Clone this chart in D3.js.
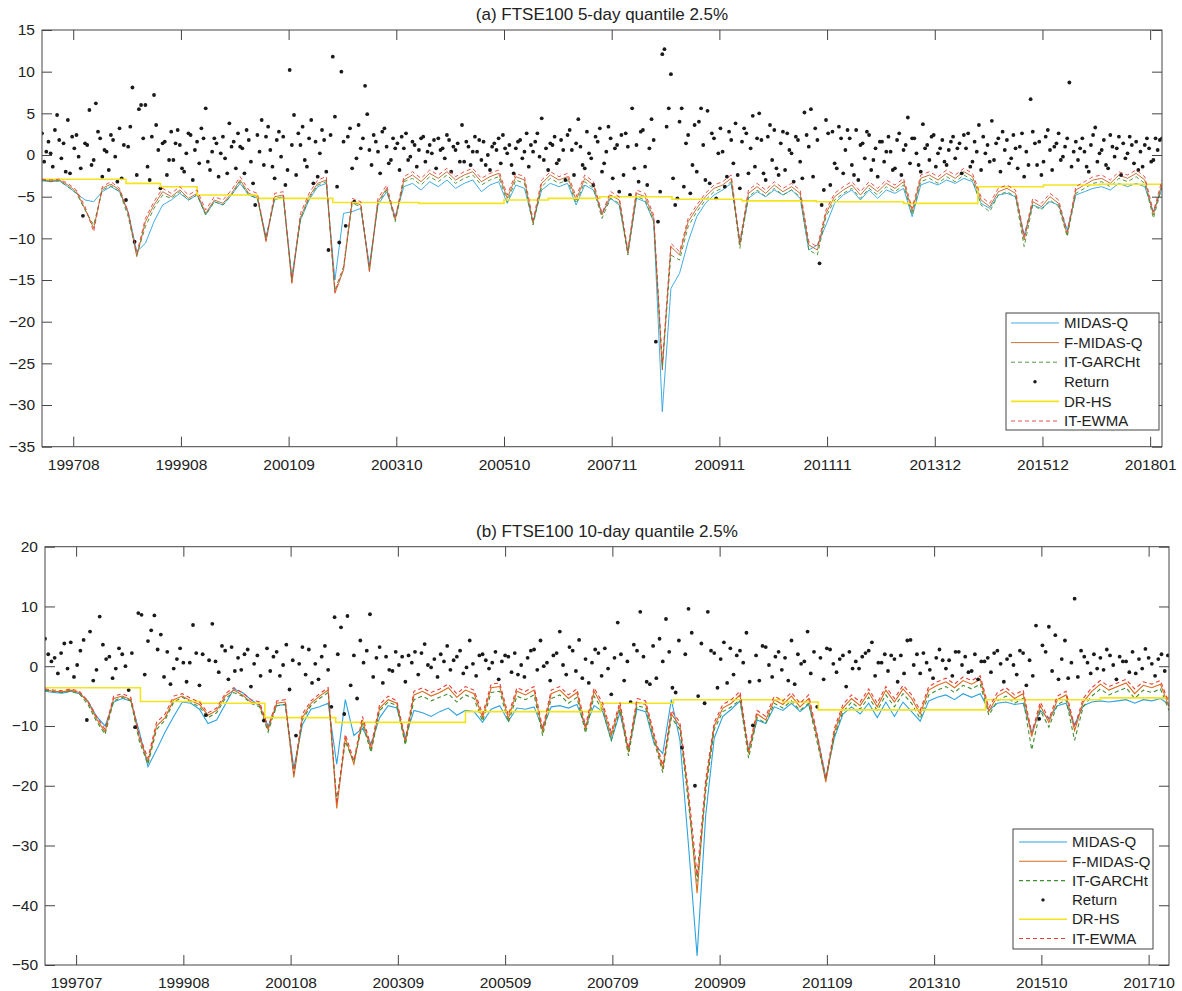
<!DOCTYPE html>
<html>
<head>
<meta charset="utf-8">
<script src="https://cdn.jsdelivr.net/npm/d3@7"></script>
<style>
  body { margin: 0; background: #fff; }
  svg { display: block; font-family: "Liberation Sans", Arial, sans-serif; }
</style>
</head>
<body>
<script>
// ---------- panel (a): 5-day, lines sampled every 8 obs, returns every 2 obs
const seriesNames = ["MIDAS-Q", "F-MIDAS-Q", "IT-GARCHt", "Return", "DR-HS", "IT-EWMA"];

const tickLabelsA = ["199708","199908","200109","200310","200510","200711","200911","201111","201312","201512","201801"];
const tickLabelsB = ["199707","199908","200108","200309","200509","200709","200909","201109","201310","201510","201710"];
const tickIdx = [29,129,229,329,429,529,629,729,829,929,1029];
const yTicksA = [-35,-30,-25,-20,-15,-10,-5,0,5,10,15];
const yTicksB = [-50,-40,-30,-20,-10,0,10,20];

const midasA = [-3.1,-3.2,-3.1,-3.8,-4.6,-5.4,-5.6,-4.4,-3.8,-4.4,
 -6.8,-11.6,-10.6,-8.0,-6.0,-5.4,-4.6,-5.4,-4.8,-7.2,
 -5.6,-6.0,-4.8,-3.4,-4.8,-5.2,-9.8,-5.4,-5.0,-14.6,
 -7.8,-5.4,-3.8,-3.4,-15.0,-7.0,-6.8,-6.4,-13.2,-6.0,
 -4.4,-7.4,-3.8,-3.4,-4.2,-3.2,-3.8,-3.0,-4.0,-3.4,
 -3.0,-4.4,-3.6,-3.2,-5.8,-3.6,-4.0,-8.0,-4.2,-3.4,
 -3.8,-3.4,-6.0,-3.6,-4.2,-7.0,-5.2,-6.0,-11.6,-5.2,
 -5.6,-8.0,-30.8,-16.0,-14.2,-10.4,-7.4,-5.8,-4.8,-4.2,
 -3.4,-10.4,-5.2,-4.4,-5.0,-4.2,-4.8,-4.2,-5.2,-11.4,
 -10.8,-8.4,-5.8,-4.8,-4.2,-5.4,-4.2,-5.2,-4.2,-4.6,
 -4.0,-7.4,-3.6,-3.2,-3.6,-3.0,-3.4,-2.8,-3.2,-5.8,
 -6.4,-4.8,-4.6,-5.0,-9.6,-6.0,-6.4,-5.6,-6.0,-9.0,
 -4.8,-4.4,-4.0,-3.8,-4.2,-3.4,-3.8,-3.4,-3.8,-6.8,
 -4.0];
const fmidasA = [-3.0,-3.1,-3.0,-3.6,-4.4,-6.5,-8.8,-4.0,-3.5,-4.2,
 -7.0,-12.2,-8.0,-6.0,-4.4,-5.0,-4.2,-5.2,-4.6,-7.0,
 -5.4,-5.8,-4.6,-3.0,-4.6,-5.0,-10.4,-5.0,-4.8,-15.4,
 -7.5,-5.0,-3.4,-3.0,-16.6,-13.8,-5.6,-6.0,-14.0,-5.6,
 -4.0,-7.8,-3.0,-2.4,-3.2,-2.2,-2.8,-2.0,-3.0,-2.4,
 -2.0,-3.2,-2.6,-2.2,-5.2,-2.6,-3.0,-8.2,-3.4,-2.4,
 -3.0,-2.6,-5.4,-2.8,-3.6,-7.2,-4.8,-5.4,-11.8,-4.6,
 -5.0,-7.6,-25.8,-11.0,-12.0,-8.0,-6.4,-5.0,-4.0,-3.6,
 -2.8,-10.8,-4.6,-3.8,-4.6,-3.6,-4.4,-3.8,-4.6,-10.8,
 -11.4,-7.0,-5.0,-4.2,-3.6,-4.8,-3.6,-4.4,-3.4,-4.0,
 -3.2,-6.8,-2.8,-2.4,-3.0,-2.2,-2.8,-2.0,-2.6,-5.4,
 -6.2,-4.4,-4.0,-4.6,-10.2,-5.6,-6.2,-5.0,-5.8,-9.6,
 -4.2,-3.6,-3.0,-2.8,-3.4,-2.4,-2.8,-2.2,-3.0,-7.2,
 -3.4];
const garchA = [-3.0,-3.2,-3.1,-3.8,-4.6,-6.6,-8.4,-4.2,-3.7,-4.4,
 -7.4,-12.0,-8.6,-6.4,-4.8,-5.2,-4.4,-5.4,-4.8,-7.2,
 -5.6,-6.0,-4.8,-3.2,-4.8,-5.2,-10.0,-5.2,-5.0,-15.0,
 -7.8,-5.2,-3.6,-3.2,-16.2,-13.4,-5.8,-6.2,-13.6,-5.8,
 -4.2,-8.0,-3.2,-2.8,-3.6,-2.6,-3.2,-2.4,-3.4,-2.8,
 -2.4,-3.6,-3.0,-2.6,-5.6,-3.0,-3.4,-8.4,-3.8,-2.8,
 -3.4,-3.0,-5.8,-3.2,-4.0,-7.6,-5.2,-5.8,-12.0,-5.0,
 -5.4,-8.0,-25.4,-12.0,-12.6,-8.6,-6.8,-5.4,-4.4,-4.0,
 -3.2,-11.2,-5.0,-4.2,-5.0,-4.0,-4.8,-4.2,-5.0,-11.4,
 -12.0,-7.4,-5.4,-4.6,-4.0,-5.2,-4.0,-4.8,-3.8,-4.4,
 -3.6,-7.2,-3.2,-2.8,-3.4,-2.6,-3.2,-2.4,-3.0,-6.0,
 -6.8,-4.8,-4.4,-5.0,-11.0,-6.0,-6.6,-5.4,-6.2,-9.8,
 -4.6,-4.0,-3.4,-3.2,-3.8,-2.8,-3.2,-2.6,-3.4,-7.6,
 -3.8];
const ewmaA = [-2.9,-3.0,-2.9,-3.4,-4.2,-6.2,-9.2,-3.8,-3.2,-4.0,
 -6.8,-11.8,-7.6,-5.6,-4.0,-4.6,-3.8,-4.8,-4.2,-6.6,
 -5.0,-5.4,-4.2,-2.6,-4.2,-4.6,-10.2,-4.6,-4.4,-15.2,
 -7.0,-4.6,-3.0,-2.6,-16.4,-13.6,-5.2,-5.6,-13.8,-5.2,
 -3.6,-7.6,-2.6,-2.0,-2.8,-1.8,-2.4,-1.6,-2.6,-2.0,
 -1.6,-2.8,-2.2,-1.8,-4.8,-2.2,-2.6,-7.8,-3.0,-2.0,
 -2.6,-2.2,-5.0,-2.4,-3.2,-7.0,-4.4,-5.0,-11.4,-4.2,
 -4.6,-7.2,-25.0,-10.6,-11.6,-7.6,-6.0,-4.6,-3.6,-3.2,
 -2.4,-10.4,-4.2,-3.4,-4.2,-3.2,-4.0,-3.4,-4.2,-10.4,
 -11.0,-6.6,-4.6,-3.8,-3.2,-4.4,-3.2,-4.0,-3.0,-3.6,
 -2.8,-6.4,-2.4,-2.0,-2.6,-1.8,-2.4,-1.6,-2.2,-5.0,
 -5.8,-4.0,-3.6,-4.2,-9.8,-5.2,-5.8,-4.6,-5.4,-9.2,
 -3.8,-3.2,-2.6,-2.4,-3.0,-2.0,-2.4,-1.8,-2.6,-6.8,
 -3.0];
// DR-HS is a step series: change points (obs index) and levels
const drhsIdxA = [0,78,110,144,200,270,350,429,470,518,585,650,719,800,869,930,982,1040];
const drhsValA = [-2.9,-3.4,-3.8,-4.8,-5.2,-5.7,-5.8,-5.4,-5.2,-5.0,-5.3,-5.5,-5.6,-5.8,-3.8,-3.6,-3.5,-3.5];
const returnA = [
 2.6,-0.8,0.4,1.6,0.2,-1.4,3.0,4.8,1.8,-0.4,1.4,-2.0,4.2,-2.2,2.2,0.8,2.4,-0.2,-1.6,-7.3,1.4,1.2,5.4,-1.2,-0.6,6.2,2.8,2.0,-2.6,0.6,
 0.4,-1.8,2.4,1.8,-0.2,-3.2,3.2,-2.8,1.2,-5.4,1.0,3.4,8.1,-10.4,-2.4,5.5,6.0,2.0,6.0,-1.4,-3.0,2.2,7.2,3.6,0.6,-4.0,1.4,1.6,-2.4,-0.6,
 2.8,-0.6,1.4,3.0,1.2,-1.6,-2.0,0.2,2.6,2.4,-3.0,0.6,1.6,-1.0,3.2,2.0,5.6,-0.8,-1.8,0.4,2.0,1.4,-2.6,0.2,2.2,-0.4,-2.2,3.8,1.0,1.6,
 -1.6,2.6,1.0,0.8,-2.2,3.0,1.8,-0.8,-3.4,-6.0,2.4,0.4,4.2,-1.2,2.2,3.4,0.6,-1.4,-2.8,1.8,2.8,-0.2,2.2,-3.6,-1.8,10.2,1.2,4.8,-2.4,2.6,
 1.2,3.4,-0.6,-1.4,2.0,4.2,-3.4,1.6,-2.6,0.2,3.0,1.8,-2.0,-11.4,2.4,11.8,4.6,-3.8,-10.5,10.0,1.6,-8.5,2.2,3.2,-1.6,-5.6,-0.4,3.6,0.8,2.0,
 8.3,4.9,0.6,-1.2,2.4,1.6,0.4,-2.2,2.8,3.2,1.0,-1.0,-0.6,2.0,0.8,1.4,-1.8,2.2,0.8,2.6,-0.6,-0.2,1.6,1.2,-1.4,0.6,2.0,2.2,-0.8,0.4,
 1.2,0.2,1.8,-1.6,2.0,0.6,0.8,-0.4,2.4,1.8,-2.0,1.0,0.6,1.4,-0.8,3.6,-0.8,1.6,1.0,-1.2,0.4,2.2,0.4,1.8,-0.6,1.6,-1.2,0.0,-1.8,1.0,
 1.4,0.6,2.0,-1.0,2.4,0.8,0.2,1.2,-1.2,-2.2,0.8,1.6,1.8,-0.4,0.4,2.6,-1.4,1.2,0.4,1.6,2.6,-0.2,4.4,-0.6,0.8,-1.8,1.4,1.2,2.2,-1.0,
 -0.6,1.8,0.6,-3.0,2.4,3.0,0.6,-2.4,1.4,4.3,1.0,-1.2,-1.6,2.8,0.2,-0.4,-3.6,2.2,1.6,3.2,-2.0,-1.0,0.4,3.4,2.0,-2.8,0.8,1.2,-4.4,2.4,
 -2.4,2.6,1.0,-4.8,5.6,-1.6,1.2,-3.2,2.8,3.0,-1.4,-3.6,0.8,4.3,1.8,-22.4,-8.0,-4.4,12.1,12.7,3.4,5.6,9.7,-2.8,-6.0,-5.2,4.0,5.6,-3.8,1.4,
 2.4,-4.6,-1.2,3.6,-2.0,4.0,5.6,1.2,-3.0,5.3,-3.4,2.6,2.0,-5.2,0.2,3.2,0.4,-3.8,-2.6,2.8,1.8,-1.0,3.8,-2.4,-4.0,1.6,3.2,2.6,-2.2,0.8,
 4.7,-1.4,2.0,5.0,1.8,-2.2,-3.0,2.2,3.6,-0.6,3.0,-1.6,-2.4,1.4,2.8,-1.8,2.6,0.6,0.2,-3.2,2.2,1.8,-0.8,-2.8,5.1,2.4,1.0,5.5,-2.6,3.2,
 1.8,-13.0,-6.0,-4.2,4.2,2.6,-3.6,2.8,-1.0,-1.6,3.4,2.0,-2.2,0.6,3.0,2.0,-1.2,-2.4,3.0,-3.0,1.2,1.4,-0.4,2.8,2.4,-1.8,-0.6,0.8,-2.6,1.6,
 1.6,-0.8,0.4,2.2,0.4,-1.8,-1.6,1.8,2.6,-2.4,0.6,1.2,4.5,-1.0,2.0,2.0,0.2,-1.2,-2.0,3.7,0.8,1.2,-0.6,2.2,2.4,-1.4,0.2,0.8,1.8,-0.8,
 -1.2,0.6,1.6,2.2,-0.4,0.8,1.4,-2.2,2.4,0.8,2.6,-1.4,-0.8,1.6,0.4,3.6,-1.8,2.2,0.2,1.2,-0.8,4.1,-0.6,1.4,2.0,-2.0,2.8,0.6,1.8,-1.0,
 -0.4,2.4,0.8,-1.6,1.0,2.6,-2.6,0.4,-1.2,6.7,2.8,1.4,-1.2,1.6,-2.4,-0.8,2.2,3.0,0.6,-1.8,1.0,1.4,2.6,-0.6,-0.2,1.0,2.0,8.7,-1.4,0.4,
 1.6,-0.6,0.8,2.0,0.4,-1.4,-2.0,1.2,2.4,3.3,-0.8,0.2,0.6,1.8,-1.2,-1.6,2.4,1.0,-0.2,0.8,2.2,-2.4,1.4,-0.4,0.2,2.2,1.2,-1.0,1.6,-1.8,
 0.4,-1.4,1.2,2.0,0.8,-0.8,-0.6,2.0,0.6,1.8,2.0];

// ---------- panel (b): 10-day, lines every 8 obs, returns every 3 obs
const midasB = [-4.2,-4.4,-4.5,-4.2,-4.6,-5.8,-8.4,-10.0,-6.0,-5.4,
 -5.8,-11.0,-16.8,-14.0,-11.0,-8.4,-6.0,-6.2,-7.2,-9.6,
 -9.0,-6.4,-3.8,-4.4,-5.6,-6.6,-10.0,-6.6,-6.4,-17.0,
 -9.8,-7.2,-6.8,-6.2,-16.4,-5.6,-11.6,-10.4,-13.0,-8.6,
 -6.6,-7.0,-12.0,-7.4,-7.8,-8.4,-7.6,-7.0,-8.2,-7.4,
 -7.6,-9.4,-7.2,-6.6,-9.2,-7.0,-7.2,-6.8,-10.4,-6.8,
 -6.6,-7.0,-6.4,-10.0,-6.6,-7.6,-12.4,-7.8,-14.0,-7.2,
 -7.6,-13.0,-14.6,-5.6,-12.4,-30.0,-48.5,-25.0,-12.0,-8.4,
 -7.2,-5.8,-14.0,-9.0,-9.6,-6.8,-7.4,-6.2,-7.6,-6.4,
 -11.6,-18.6,-12.0,-8.0,-6.8,-8.0,-6.2,-8.6,-6.0,-8.4,
 -6.0,-7.6,-9.2,-5.8,-5.2,-4.8,-5.6,-4.6,-5.2,-4.6,
 -7.4,-6.2,-6.0,-6.4,-6.2,-11.0,-7.4,-8.8,-6.6,-6.2,
 -9.8,-6.6,-6.0,-5.8,-6.0,-5.8,-5.6,-6.2,-5.6,-5.8,
 -5.4,-6.4];
const fmidasB = [-4.0,-4.2,-4.3,-4.0,-4.4,-6.0,-8.8,-11.0,-5.4,-5.0,
 -5.6,-12.0,-16.0,-10.0,-8.6,-5.6,-5.0,-5.8,-6.4,-8.2,
 -7.4,-5.0,-4.0,-4.8,-6.0,-6.4,-10.6,-6.2,-6.0,-18.6,
 -8.6,-6.2,-5.0,-4.0,-23.8,-12.0,-16.4,-9.0,-14.0,-7.0,
 -5.6,-6.2,-12.8,-4.8,-4.2,-5.0,-4.4,-3.6,-5.2,-4.0,
 -4.6,-8.6,-3.6,-3.4,-8.8,-4.2,-4.8,-4.0,-11.0,-4.6,
 -4.0,-5.4,-4.4,-10.6,-4.2,-6.8,-11.6,-6.6,-14.4,-6.0,
 -6.4,-12.0,-17.2,-8.0,-10.0,-22.0,-38.0,-20.0,-10.0,-7.0,
 -6.2,-4.8,-14.6,-8.0,-9.0,-5.6,-6.4,-5.0,-6.8,-5.4,
 -12.0,-19.4,-11.0,-7.0,-5.4,-6.6,-4.4,-6.8,-4.0,-6.0,
 -3.8,-5.4,-8.0,-4.0,-3.2,-2.6,-3.6,-2.4,-3.0,-2.2,
 -7.6,-5.0,-4.2,-5.4,-4.6,-11.8,-6.6,-9.4,-5.6,-4.8,
 -10.8,-6.0,-4.2,-3.0,-4.0,-3.4,-2.8,-4.6,-3.2,-3.6,
 -3.0,-6.8];
const garchB = [-4.0,-4.3,-4.4,-4.2,-4.6,-6.4,-9.2,-11.4,-5.8,-5.2,
 -5.8,-12.6,-16.4,-10.6,-9.0,-6.0,-5.2,-6.0,-6.8,-8.6,
 -7.8,-5.4,-4.4,-5.0,-6.2,-6.8,-11.0,-6.6,-6.4,-18.0,
 -9.0,-6.6,-5.4,-4.4,-22.6,-12.6,-16.0,-9.6,-14.4,-7.4,
 -6.0,-6.6,-13.2,-5.6,-5.0,-5.8,-5.2,-4.6,-6.0,-4.8,
 -5.4,-9.2,-4.4,-4.2,-9.4,-5.0,-5.6,-4.8,-11.6,-5.4,
 -4.8,-6.2,-5.2,-11.2,-5.0,-7.4,-12.4,-7.2,-15.0,-6.6,
 -7.0,-12.6,-17.8,-8.6,-10.6,-23.0,-36.0,-21.0,-10.6,-7.6,
 -6.8,-5.6,-15.4,-8.6,-9.6,-6.2,-7.0,-5.8,-7.4,-6.2,
 -12.8,-19.0,-11.6,-7.6,-6.0,-7.2,-5.2,-7.4,-4.8,-6.8,
 -4.6,-6.2,-8.8,-4.8,-4.0,-3.4,-4.4,-3.2,-3.8,-3.0,
 -8.2,-5.8,-5.0,-6.2,-5.4,-14.0,-7.4,-10.2,-6.4,-5.6,
 -12.4,-6.8,-5.0,-3.8,-4.8,-4.2,-3.6,-5.4,-4.0,-4.4,
 -3.8,-7.4];
const ewmaB = [-3.8,-4.0,-4.1,-3.8,-4.2,-5.8,-8.4,-10.6,-5.0,-4.6,
 -5.2,-11.6,-15.4,-9.4,-8.0,-5.0,-4.6,-5.4,-6.0,-7.8,
 -7.0,-4.6,-3.6,-4.4,-5.6,-6.0,-10.2,-5.8,-5.6,-18.0,
 -8.0,-5.8,-4.6,-3.6,-23.0,-11.4,-15.8,-8.4,-13.4,-6.4,
 -5.0,-5.8,-12.2,-4.2,-3.6,-4.4,-3.8,-3.0,-4.6,-3.4,
 -4.0,-8.0,-3.0,-2.8,-8.2,-3.6,-4.2,-3.4,-10.4,-4.0,
 -3.4,-4.8,-3.8,-10.0,-3.6,-6.2,-11.0,-6.0,-13.8,-5.4,
 -5.8,-11.4,-16.6,-7.4,-9.4,-21.0,-35.0,-19.0,-9.4,-6.4,
 -5.6,-4.2,-14.0,-7.4,-8.4,-5.0,-5.8,-4.4,-6.2,-4.8,
 -11.4,-18.8,-10.4,-6.4,-4.8,-6.0,-3.8,-6.2,-3.4,-5.4,
 -3.2,-4.8,-7.4,-3.4,-2.6,-2.0,-3.0,-1.8,-2.4,-1.6,
 -7.0,-4.4,-3.6,-4.8,-4.0,-11.2,-6.0,-8.8,-5.0,-4.2,
 -10.2,-5.4,-3.6,-2.4,-3.4,-2.8,-2.2,-3.8,-2.6,-3.0,
 -2.4,-6.2];
const drhsIdxB = [0,89,145,205,271,392,518,586,688,721,877,984,1048];
const drhsValB = [-3.6,-5.9,-6.2,-8.6,-9.4,-7.6,-6.2,-5.6,-6.0,-7.3,-5.6,-5.3,-5.3];
const returnB = [
 4.6,2.0,0.8,1.4,-1.2,2.2,3.8,-0.4,4.0,-1.8,0.2,2.6,4.4,-9.0,5.8,-2.4,-0.6,8.3,3.6,1.2,1.6,-2.0,-0.4,3.0,2.0,0.0,-4.0,2.2,
 -10.2,8.9,8.6,-1.4,4.2,6.0,8.5,2.8,5.3,-1.8,2.4,-3.0,-0.4,1.2,3.0,0.6,-2.6,0.6,6.9,2.2,-3.2,2.0,-8.2,1.0,7.1,0.8,-1.0,3.4,
 2.6,-2.2,3.2,-0.8,1.4,-0.6,2.0,2.8,-3.4,0.4,1.8,-1.6,-9.1,3.0,-0.8,1.6,2.4,-1.6,0.2,3.6,-3.9,1.0,-11.6,0.4,
 3.2,-1.4,2.8,-2.8,0.4,-2.2,1.6,3.4,-0.6,-6.8,8.2,2.0,6.5,-8.0,8.4,-3.2,1.8,-5.4,4.3,0.6,2.6,8.7,-1.8,1.4,3.2,-2.8,1.6,-0.6,
 -0.8,2.4,0.2,1.6,-2.6,1.8,0.6,2.4,-1.4,2.2,3.7,0.2,-0.2,1.2,-1.8,2.0,0.8,3.4,-0.6,1.0,1.6,2.6,-1.2,-0.2,4.3,0.4,-1.6,1.8,
 2.0,1.0,-0.4,0.6,2.4,-2.2,0.8,1.8,1.6,-1.0,2.2,-1.4,0.2,-1.8,1.4,2.6,2.8,-0.6,4.3,0.0,0.6,-2.4,1.8,2.2,
 5.8,0.2,-1.4,3.2,2.6,-0.8,4.4,-2.0,1.2,-2.8,0.6,2.8,2.2,-1.6,3.0,-0.4,-4.7,1.4,7.3,2.0,-2.4,0.8,-6.0,3.6,2.6,9.1,1.6,-2.6,
 -3.0,3.4,-2.0,4.6,0.8,7.9,2.4,-3.6,-4.4,4.3,-13.6,2.0,9.6,5.6,-20.0,-5.0,3.8,-6.2,9.1,2.6,2.2,-3.6,1.2,4.0,-2.8,3.0,-1.4,1.8,
 2.6,0.6,5.6,-2.6,-9.9,1.8,-2.4,3.4,3.2,0.2,-1.8,1.6,2.4,-0.6,1.4,-2.4,4.3,-3.0,2.0,0.4,0.8,5.8,-1.2,2.4,
 -6.8,1.4,-2.2,3.0,2.8,0.4,-1.0,1.2,1.8,-3.4,2.4,-0.4,0.8,-0.4,1.6,2.2,2.6,4.0,-1.6,0.6,0.6,2.0,-0.8,1.8,1.2,-2.6,1.8,-1.2,
 4.3,4.4,0.2,2.0,-1.2,2.2,0.6,-0.6,-2.0,1.4,2.8,1.0,-0.4,1.0,-1.6,2.4,2.4,0.2,1.6,-1.0,-0.8,2.0,-2.2,0.8,0.8,1.4,-1.0,2.2,
 2.6,0.4,-2.6,1.2,1.8,0.2,-1.4,2.6,2.2,-3.2,1.0,-1.6,6.8,-8.8,3.5,2.4,6.6,-0.8,5.2,-2.2,1.2,4.3,-2.0,0.6,
 11.3,-1.8,2.6,1.6,0.6,-1.2,2.0,-0.4,1.4,-0.6,2.8,1.8,0.2,-2.2,1.6,0.8,0.8,-1.0,2.4,-1.2,1.2,-0.4,2.9,1.4,0.4,-1.6,1.2,2.0,
 -0.8,1.8];

const svg = d3.select("body").append("svg")
  .attr("width", 1182)
  .attr("height", 991);

svg.append("rect").attr("width", 1182).attr("height", 991).attr("fill", "#fff");

function drawPanel(p) {
  const x = d3.scaleLinear().domain([0, p.xMax]).range([p.left, p.right]);
  const y = d3.scaleLinear().domain([p.yMin, p.yMax]).range([p.bottom, p.top]);
  const g = svg.append("g");

  g.append("clipPath").attr("id", p.id + "clip")
    .append("rect")
    .attr("x", p.left).attr("y", p.top)
    .attr("width", p.right - p.left).attr("height", p.bottom - p.top);

  const plot = g.append("g").attr("clip-path", `url(#${p.id}clip)`);

  const line = d3.line()
    .x((d, i) => x(i * p.lineStep))
    .y(d => y(d));

  const stepLine = d3.line()
    .x(d => x(d[0]))
    .y(d => y(d[1]))
    .curve(d3.curveStepAfter);

  // same order as the legend
  plot.append("path").datum(p.midas)
    .attr("fill", "none").attr("stroke", "#2ea3e0").attr("stroke-width", p.lw)
    .attr("d", line);
  plot.append("path").datum(p.fmidas)
    .attr("fill", "none").attr("stroke", p.fColor).attr("stroke-width", p.lw)
    .attr("d", line);
  plot.append("path").datum(p.garch)
    .attr("fill", "none").attr("stroke", "#3f8f2f").attr("stroke-width", p.lw)
    .attr("stroke-dasharray", "4,3")
    .attr("d", line);

  plot.selectAll("circle.ret").data(p.ret).join("circle")
    .attr("class", "ret")
    .attr("cx", (d, i) => x(i * p.retStep))
    .attr("cy", d => y(d))
    .attr("r", 1.9)
    .attr("fill", "#1a1a1a");

  plot.append("path").datum(d3.zip(p.drhsIdx, p.drhsVal))
    .attr("fill", "none").attr("stroke", "#f3e41e").attr("stroke-width", 1.6)
    .attr("d", stepLine);
  plot.append("path").datum(p.ewma)
    .attr("fill", "none").attr("stroke", "#e5403a").attr("stroke-width", p.lw)
    .attr("stroke-dasharray", "4,3")
    .attr("d", line);

  // MATLAB-like box axes with inward ticks
  const axisStyle = sel => {
    sel.select(".domain").remove();
    sel.selectAll(".tick line").attr("stroke", "#444");
    sel.selectAll("text").attr("fill", "#222").style("font-size", "15.5px");
  };

  g.append("g")
    .attr("transform", `translate(0,${p.bottom})`)
    .call(d3.axisBottom(x).tickValues(tickIdx).tickFormat((d, i) => p.tickLabels[i])
      .tickSizeInner(-10).tickSizeOuter(0).tickPadding(12))
    .call(axisStyle);
  g.append("g")
    .attr("transform", `translate(0,${p.top})`)
    .call(d3.axisTop(x).tickValues(tickIdx).tickFormat("").tickSizeInner(-10).tickSizeOuter(0))
    .call(axisStyle);
  g.append("g")
    .attr("transform", `translate(${p.left},0)`)
    .call(d3.axisLeft(y).tickValues(p.yTicks).tickFormat(d3.format("d"))
      .tickSizeInner(-10).tickSizeOuter(0).tickPadding(7))
    .call(axisStyle);
  g.append("g")
    .attr("transform", `translate(${p.right},0)`)
    .call(d3.axisRight(y).tickValues(p.yTicks).tickFormat("").tickSizeInner(-10).tickSizeOuter(0))
    .call(axisStyle);

  g.append("rect")
    .attr("x", p.left).attr("y", p.top)
    .attr("width", p.right - p.left).attr("height", p.bottom - p.top)
    .attr("fill", "none").attr("stroke", "#444").attr("stroke-width", 1);

  g.append("text")
    .attr("x", (p.left + p.right) / 2)
    .attr("y", p.top - 10)
    .attr("text-anchor", "middle")
    .attr("fill", "#222")
    .style("font-size", "17px")
    .text(p.title);

  // legend
  const L = p.legend;
  const lg = g.append("g");
  lg.append("rect")
    .attr("x", L.x).attr("y", L.y).attr("width", L.w).attr("height", L.h)
    .attr("fill", "#fff").attr("stroke", "#444");
  const styles = [
    { c: "#2ea3e0", dash: null },
    { c: p.fColor, dash: null },
    { c: "#3f8f2f", dash: "4,3" },
    { c: "#1a1a1a", dot: true },
    { c: "#f3e41e", dash: null },
    { c: "#e5403a", dash: "4,3" }
  ];
  seriesNames.forEach((name, i) => {
    const cy = L.y + L.first + i * L.row;
    const s = styles[i];
    if (s.dot) {
      lg.append("circle").attr("cx", (L.x1 + L.x2) / 2).attr("cy", cy).attr("r", 1.7).attr("fill", s.c);
    } else {
      lg.append("line")
        .attr("x1", L.x1).attr("x2", L.x2).attr("y1", cy).attr("y2", cy)
        .attr("stroke", s.c).attr("stroke-width", i === 4 ? 1.6 : p.lw)
        .attr("stroke-dasharray", s.dash);
    }
    lg.append("text")
      .attr("x", L.tx).attr("y", cy).attr("dy", "0.35em")
      .attr("fill", "#222")
      .style("font-size", "15px")
      .text(name);
  });
}

drawPanel({
  id: "a", title: "(a) FTSE100 5-day quantile 2.5%",
  left: 42, right: 1162, top: 30, bottom: 446.7,
  xMax: 1040, yMin: -35, yMax: 15, yTicks: yTicksA, tickLabels: tickLabelsA,
  lineStep: 8, retStep: 2, lw: 0.9, fColor: "#bb6426",
  midas: midasA, fmidas: fmidasA, garch: garchA, ewma: ewmaA, ret: returnA,
  drhsIdx: drhsIdxA, drhsVal: drhsValA,
  legend: { x: 1006, y: 313, w: 153, h: 117, first: 10, row: 19.6, x1: 1011, x2: 1059, tx: 1064 }
});

drawPanel({
  id: "b", title: "(b) FTSE100 10-day quantile 2.5%",
  left: 45, right: 1169, top: 546.7, bottom: 965,
  xMax: 1048, yMin: -50, yMax: 20, yTicks: yTicksB, tickLabels: tickLabelsB,
  lineStep: 8, retStep: 3, lw: 1.1, fColor: "#d96c1e",
  midas: midasB, fmidas: fmidasB, garch: garchB, ewma: ewmaB, ret: returnB,
  drhsIdx: drhsIdxB, drhsVal: drhsValB,
  legend: { x: 1013, y: 829, w: 140, h: 120, first: 13, row: 19.3, x1: 1019, x2: 1067, tx: 1072 }
});
</script>
</body>
</html>
